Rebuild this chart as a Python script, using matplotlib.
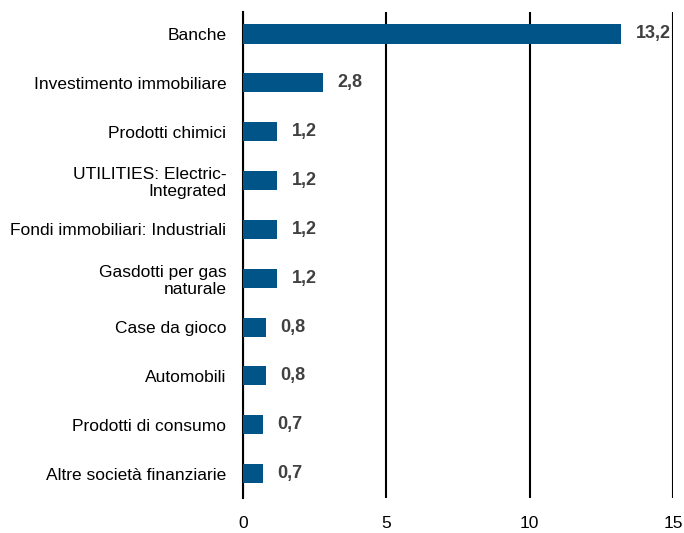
import matplotlib.pyplot as plt

plt.rcParams['font.family'] = ['Liberation Sans Narrow', 'Liberation Sans', 'DejaVu Sans']

# Data
categories = ['Banche', 'Investimento immobiliare', 'Prodotti chimici',
              'UTILITIES: Electric-\nIntegrated', 'Fondi immobiliari: Industriali',
              'Gasdotti per gas\nnaturale', 'Case da gioco', 'Automobili',
              'Prodotti di consumo', 'Altre società finanziarie']
values = [13.2, 2.8, 1.2, 1.2, 1.2, 1.2, 0.8, 0.8, 0.7, 0.7]
x_ticks = [0, 5, 10, 15]

fig = plt.figure(figsize=(6.84, 5.33), dpi=100)
ax = fig.add_axes([243 / 684, 1 - 498 / 533, 430 / 684, 486 / 533])

pos = list(range(len(categories)))
ax.barh(pos, values, height=0.39, color='#005487', zorder=3)

for p, v in zip(pos, values):
    ax.text(v + 0.5, p, f'{v:.1f}'.replace('.', ','), va='center', ha='left',
            fontsize=13, fontweight='bold', color='#404040', zorder=4)

ax.set_xlim(0, 15)
ax.set_ylim(9.5, -0.45)
ax.set_xticks(x_ticks)
ax.set_xticklabels([str(t) for t in x_ticks])
ax.set_yticks(pos)
ax.set_yticklabels(categories, linespacing=1.2)
ax.tick_params(axis='both', length=0, labelsize=12.5, colors='black')
ax.tick_params(axis='x', pad=13)
ax.tick_params(axis='y', pad=12)

ax.grid(axis='x', color='black', linewidth=1.5, zorder=0)
for s in ['top', 'right', 'bottom']:
    ax.spines[s].set_visible(False)
ax.spines['left'].set_linewidth(1.5)

fig.savefig('out.png', dpi=100)
